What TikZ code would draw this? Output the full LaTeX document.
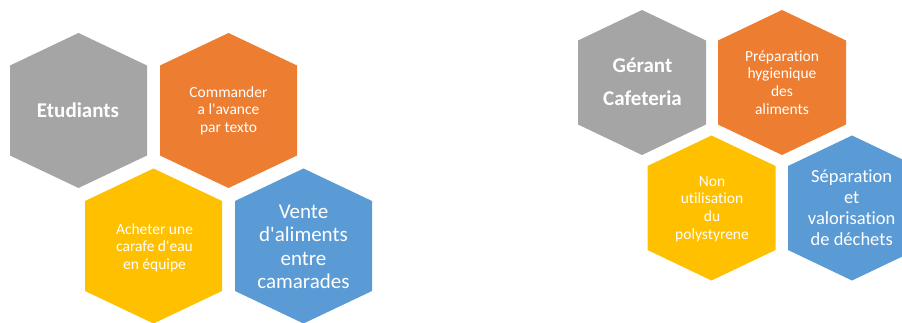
\documentclass[tikz,border=0pt]{standalone}
\usepackage{fontspec}
\setmainfont[Ligatures=NoCommon]{Carlito}
\definecolor{hgray}{HTML}{A5A5A5}
\definecolor{horange}{HTML}{ED7D31}
\definecolor{hyellow}{HTML}{FFC000}
\definecolor{hblue}{HTML}{5B9BD5}
% #1 colour, #2 cx, #3 cy, #4 half width, #5 corner offset, #6 tip offset
\newcommand{\hexfill}[6]{%
  \begin{scope}[shift={(#2,#3)}]
    \fill[#1] (0,-#6) -- (#4,-#5) -- (#4,#5) -- (0,#6) -- (-#4,#5) -- (-#4,-#5) -- cycle;
  \end{scope}}
\tikzset{
  htext/.style={text=white, align=center, inner sep=0pt},
  hbig/.style={htext, font=\bfseries\fontsize{21}{33}\selectfont},
  hsmall/.style={htext, font=\fontsize{15.5}{17.8}\selectfont},
  hlarge/.style={htext, font=\fontsize{21}{23.3}\selectfont},
  hmid/.style={htext, font=\fontsize{18.5}{21}\selectfont}
}
\begin{document}
\begin{tikzpicture}[x=1pt, y=-1pt]
\useasboundingbox (0,0) rectangle (902,323);
\clip (0,0) rectangle (902,323);
% left group
\hexfill{hgray}{78.5}{110.5}{68.5}{45}{77.5}
\hexfill{horange}{228.5}{110.5}{68.5}{45}{77.5}
\hexfill{hyellow}{153.5}{246}{68.5}{45}{77.5}
\hexfill{hblue}{303.5}{246}{68.5}{45}{77.5}
\node[hbig] (etud) at (78,110) {Etudiants};
\node[hsmall] (comm) at (228.5,110.7) {Commander\\a l\textquotesingle avance\\par texto};
\node[hsmall] (ach) at (154.5,247.7) {Acheter une\\carafe d\textquotesingle eau\\en équipe};
\node[hlarge] (vente) at (303.5,246.7) {Vente\\d\textquotesingle aliments\\entre\\camarades};
% right group
\hexfill{hgray}{642}{82.5}{64}{42}{72.5}
\hexfill{horange}{782}{82.5}{64}{42}{72.5}
\hexfill{hyellow}{711.5}{208}{64}{42}{72.5}
\hexfill{hblue}{852}{208}{64}{42}{72.5}
\node[hbig] (gerant) at (642.5,81.7) {Gérant\\Cafeteria};
\node[hsmall] (prep) at (782,82.5) {Préparation\\hygienique\\des\\aliments};
\node[hsmall] (non) at (712,209) {Non\\utilisation\\du\\polystyrene};
\node[hmid] (sep) at (851.7,208) {Séparation\\et\\valorisation\\de déchets};
\end{tikzpicture}
\end{document}
